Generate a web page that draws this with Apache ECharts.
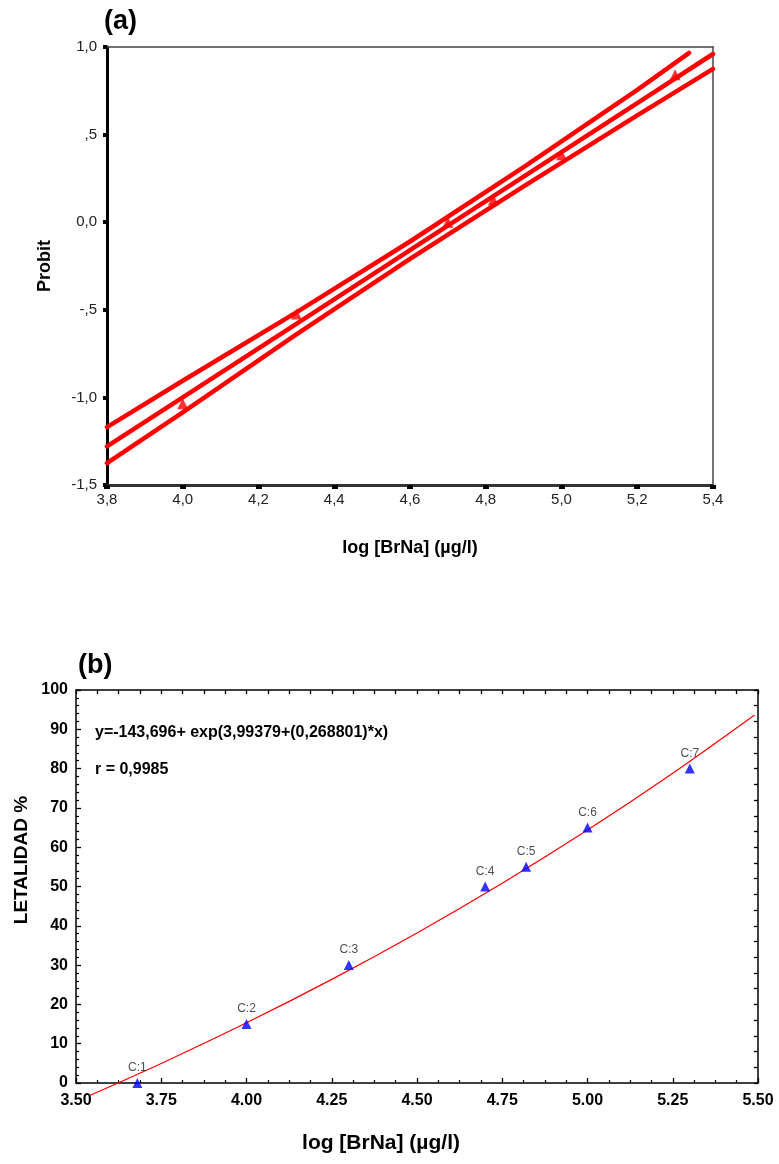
<!DOCTYPE html>
<html>
<head>
<meta charset="utf-8">
<script src="https://cdn.jsdelivr.net/npm/echarts@6/dist/echarts.min.js"></script>
<style>
  html, body { margin: 0; padding: 0; background: #fff; }
  #chart { width: 779px; height: 1164px; }
</style>
</head>
<body>
<div id="chart"></div>
<script>
// ---- (a) probit regression ----
const probitTicksX = [3.8, 4.0, 4.2, 4.4, 4.6, 4.8, 5.0, 5.2, 5.4];
const probitTicksY = [-1.5, -1.0, -0.5, 0.0, 0.5, 1.0];
const probitPointX = [4.0, 4.3, 4.7, 4.82, 5.0, 5.3];
const probitPointY = [-1.036, -0.524, 0.0, 0.126, 0.385, 0.842];
const regLineX = [3.8, 4.0, 4.3, 4.6, 4.9, 5.2, 5.4];
const regLineY = [-1.28, -1.0, -0.58, -0.16, 0.26, 0.68, 0.96];
const upperBandX = [3.8, 4.0, 4.3, 4.6, 4.9, 5.2, 5.337];
const upperBandY = [-1.17, -0.905, -0.515, -0.11, 0.315, 0.755, 0.966];
const lowerBandX = [3.8, 4.0, 4.3, 4.6, 4.9, 5.2, 5.4];
const lowerBandY = [-1.375, -1.085, -0.64, -0.21, 0.205, 0.61, 0.875];

// ---- (b) lethality vs log dose ----
const doseX = [3.68, 4.0, 4.3, 4.7, 4.82, 5.0, 5.3];
const lethality = [0, 15, 30, 50, 55, 65, 80];
const caseNames = ['C:1', 'C:2', 'C:3', 'C:4', 'C:5', 'C:6', 'C:7'];
const fitX = [3.54, 3.75, 4.0, 4.25, 4.5, 4.75, 5.0, 5.25, 5.49];
const fitY = [-3.18, 4.98, 15.32, 26.37, 38.19, 50.84, 64.36, 78.82, 93.64];
const fitEquation = 'y=-143,696+ exp(3,99379+(0,268801)*x)';
const fitR = 'r = 0,9985';

const FONT = "'Liberation Sans', Arial, sans-serif";
const zip = (xs, ys) => xs.map((x, i) => [x, ys[i]]);
const comma = (v, d) => {
  let s = Math.abs(v).toFixed(d).replace('.', ',');
  if (s.startsWith('0,') && Math.abs(v) > 1e-9) s = s.slice(1);
  return (v < 0 ? '-' : '') + s;
};

const chart = echarts.init(document.getElementById('chart'), null, { renderer: 'canvas' });

const option = {
  animation: false,
  backgroundColor: '#ffffff',
  grid: [
    { left: 107, top: 47, width: 606, height: 438, containLabel: false },
    { left: 76, top: 690, width: 682, height: 393, containLabel: false }
  ],
  xAxis: [
    {
      gridIndex: 0, type: 'value', position: 'bottom',
      min: probitTicksX[0], max: probitTicksX[probitTicksX.length - 1], interval: 0.2,
      axisLine: { show: true, onZero: false, lineStyle: { color: '#333', width: 3 } },
      axisTick: { show: true, inside: false, length: 4, lineStyle: { color: '#000', width: 6 } },
      axisLabel: { show: true, margin: 7, color: '#222', fontFamily: FONT, fontSize: 15,
        showMinLabel: true, showMaxLabel: true, formatter: v => comma(v, 1) },
      splitLine: { show: false }
    },
    {
      gridIndex: 0, type: 'value', position: 'top',
      min: 3.8, max: 5.4,
      axisLine: { show: true, onZero: false, lineStyle: { color: '#444', width: 1.5 } },
      axisTick: { show: false }, axisLabel: { show: false }, splitLine: { show: false }
    },
    {
      gridIndex: 1, type: 'value', position: 'bottom',
      min: 3.5, max: 5.5, interval: 0.25,
      axisLine: { show: true, onZero: false, lineStyle: { color: '#000', width: 1.5 } },
      axisTick: { show: true, inside: true, length: 5, lineStyle: { color: '#000', width: 1.3 } },
      minorTick: { show: true, splitNumber: 4, length: 3, lineStyle: { color: '#000', width: 1.2 } },
      axisLabel: { show: true, margin: 10, color: '#000', fontFamily: FONT, fontSize: 16, fontWeight: 'bold',
        showMinLabel: true, showMaxLabel: true, formatter: v => v.toFixed(2) },
      splitLine: { show: false }
    },
    {
      gridIndex: 1, type: 'value', position: 'top',
      min: 3.5, max: 5.5, interval: 0.0625,
      axisLine: { show: true, onZero: false, lineStyle: { color: '#000', width: 1.5 } },
      axisTick: { show: true, inside: true, length: 4, lineStyle: { color: '#000', width: 1.3 } },
      axisLabel: { show: false }, splitLine: { show: false }
    }
  ],
  yAxis: [
    {
      gridIndex: 0, type: 'value', position: 'left',
      min: probitTicksY[0], max: probitTicksY[probitTicksY.length - 1], interval: 0.5,
      axisLine: { show: true, onZero: false, lineStyle: { color: '#000', width: 3 } },
      axisTick: { show: true, inside: false, length: 4, lineStyle: { color: '#000', width: 4 } },
      axisLabel: { show: true, margin: 10, color: '#222', fontFamily: FONT, fontSize: 15,
        showMinLabel: true, showMaxLabel: true, formatter: v => comma(v, 1) },
      splitLine: { show: false }
    },
    {
      gridIndex: 0, type: 'value', position: 'right',
      min: -1.5, max: 1.0,
      axisLine: { show: true, onZero: false, lineStyle: { color: '#444', width: 1.5 } },
      axisTick: { show: false }, axisLabel: { show: false }, splitLine: { show: false }
    },
    {
      gridIndex: 1, type: 'value', position: 'left',
      min: 0, max: 100, interval: 10,
      axisLine: { show: true, onZero: false, lineStyle: { color: '#000', width: 1.5 } },
      axisTick: { show: true, inside: true, length: 5, lineStyle: { color: '#000', width: 1.3 } },
      minorTick: { show: true, splitNumber: 5, length: 3, lineStyle: { color: '#000', width: 1.2 } },
      axisLabel: { show: true, margin: 8, color: '#000', fontFamily: FONT, fontSize: 16, fontWeight: 'bold',
        showMinLabel: true, showMaxLabel: true },
      splitLine: { show: false }
    },
    {
      gridIndex: 1, type: 'value', position: 'right',
      min: 0, max: 100, interval: 4,
      axisLine: { show: true, onZero: false, lineStyle: { color: '#000', width: 1.5 } },
      axisTick: { show: true, inside: true, length: 4, lineStyle: { color: '#000', width: 1.3 } },
      axisLabel: { show: false }, splitLine: { show: false }
    }
  ],
  series: [
    // (a) regression line with its confidence bands
    {
      type: 'line', xAxisIndex: 0, yAxisIndex: 0, data: zip(upperBandX, upperBandY),
      showSymbol: false, lineStyle: { color: '#ff0000', width: 4.5, cap: 'round', join: 'round' }
    },
    {
      type: 'line', xAxisIndex: 0, yAxisIndex: 0, data: zip(regLineX, regLineY),
      showSymbol: false, lineStyle: { color: '#ff0000', width: 4.5, cap: 'round', join: 'round' }
    },
    {
      type: 'line', xAxisIndex: 0, yAxisIndex: 0, data: zip(lowerBandX, lowerBandY),
      showSymbol: false, lineStyle: { color: '#ff0000', width: 4.5, cap: 'round', join: 'round' }
    },
    {
      type: 'scatter', xAxisIndex: 0, yAxisIndex: 0, data: zip(probitPointX, probitPointY),
      symbol: 'triangle', symbolSize: 11, itemStyle: { color: '#ff0000' }, z: 5
    },
    // (b) exponential fit and observed lethality
    {
      type: 'line', xAxisIndex: 2, yAxisIndex: 2, data: zip(fitX, fitY), clip: false,
      smooth: 0.3, showSymbol: false, lineStyle: { color: '#ff0000', width: 1.2 }
    },
    {
      type: 'scatter', xAxisIndex: 2, yAxisIndex: 2, clip: false,
      data: doseX.map((x, i) => ({ value: [x, lethality[i]], name: caseNames[i] })),
      symbol: 'triangle', symbolSize: 10, itemStyle: { color: '#0000ff' }, z: 5,
      label: { show: true, position: 'top', distance: 4, formatter: p => p.name,
        color: '#222', fontFamily: FONT, fontSize: 12 }
    }
  ],
  graphic: [
    { type: 'text', x: 104, y: 22, style: { text: '(a)', font: 'bold 27px ' + FONT, fill: '#000', textVerticalAlign: 'middle' } },
    { type: 'text', x: 78, y: 666, style: { text: '(b)', font: 'bold 27px ' + FONT, fill: '#000', textVerticalAlign: 'middle' } },
    { type: 'text', x: 45, y: 266, rotation: Math.PI / 2,
      style: { text: 'Probit', font: 'bold 18px ' + FONT, fill: '#000', textAlign: 'center', textVerticalAlign: 'middle' } },
    { type: 'text', x: 410, y: 548,
      style: { text: 'log [BrNa] (µg/l)', font: 'bold 18px ' + FONT, fill: '#000', textAlign: 'center', textVerticalAlign: 'middle' } },
    { type: 'text', x: 22, y: 860, rotation: Math.PI / 2,
      style: { text: 'LETALIDAD %', font: 'bold 19px ' + FONT, fill: '#000', textAlign: 'center', textVerticalAlign: 'middle' } },
    { type: 'text', x: 381, y: 1143,
      style: { text: 'log [BrNa] (µg/l)', font: 'bold 21px ' + FONT, fill: '#000', textAlign: 'center', textVerticalAlign: 'middle' } },
    { type: 'text', x: 95, y: 733,
      style: { text: fitEquation, font: 'bold 16px ' + FONT, fill: '#000', textVerticalAlign: 'middle' } },
    { type: 'text', x: 95, y: 770,
      style: { text: fitR, font: 'bold 16px ' + FONT, fill: '#000', textVerticalAlign: 'middle' } }
  ]
};

chart.setOption(option);
</script>
</body>
</html>
